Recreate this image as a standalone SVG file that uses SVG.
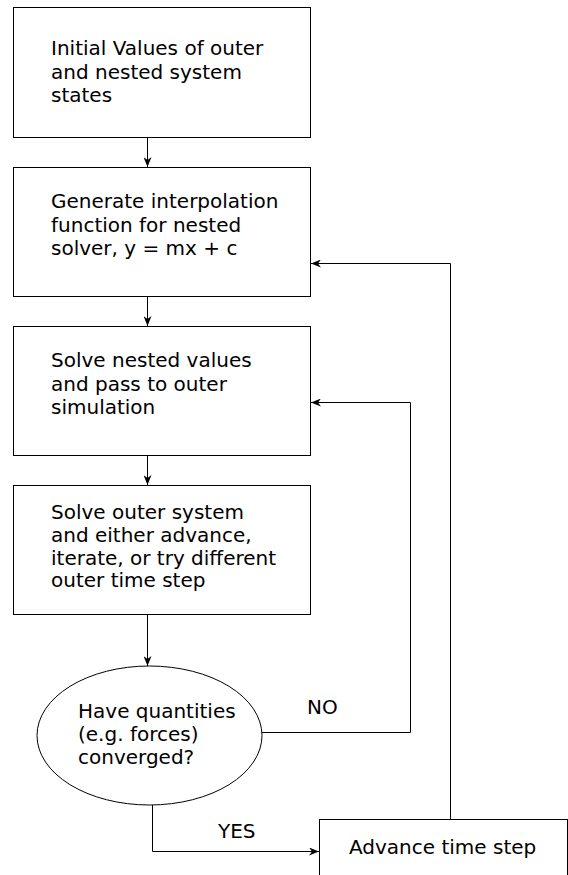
<svg xmlns="http://www.w3.org/2000/svg" width="568" height="875" viewBox="0 0 568 875">
<style>
.box{fill:#fff;stroke:#000;stroke-width:1}
.t{font-family:"DejaVu Sans",Verdana,sans-serif;font-size:20px;fill:#000}
.c{fill:none;stroke:#000;stroke-width:1}
</style>
<defs>
<marker id="ah" viewBox="0 0 10 8" refX="10" refY="4" markerWidth="10" markerHeight="8" markerUnits="userSpaceOnUse" orient="auto">
<path d="M0,0 L10,4 L0,8 L3,4 z" fill="#000"/>
</marker>
</defs>
<rect width="568" height="875" fill="#fff"/>
<g id="n1">
<rect class="box" x="13.5" y="7.5" width="297" height="130"/>
<text class="t" x="51" y="55">Initial Values of outer</text>
<text class="t" x="51" y="78.5">and nested system</text>
<text class="t" x="51" y="102">states</text>
</g>
<g id="n2">
<rect class="box" x="13.5" y="167.5" width="297" height="129"/>
<text class="t" x="51" y="208">Generate interpolation</text>
<text class="t" x="51" y="231.5">function for nested</text>
<text class="t" x="51" y="254.5">solver, y = mx + c</text>
</g>
<g id="n3">
<rect class="box" x="13.5" y="326.5" width="297" height="129"/>
<text class="t" x="51" y="367">Solve nested values</text>
<text class="t" x="51" y="390.5">and pass to outer</text>
<text class="t" x="51" y="413.5">simulation</text>
</g>
<g id="n4">
<rect class="box" x="13.5" y="485.5" width="297" height="129"/>
<text class="t" x="51" y="519">Solve outer system</text>
<text class="t" x="51" y="542">and either advance,</text>
<text class="t" x="51" y="564.5">iterate, or try different</text>
<text class="t" x="51" y="587">outer time step</text>
</g>
<g id="n5">
<ellipse class="box" cx="149.5" cy="735.5" rx="112.5" ry="69.5"/>
<text class="t" x="78" y="718">Have quantities</text>
<text class="t" x="78" y="741">(e.g. forces)</text>
<text class="t" x="78" y="763.5">converged?</text>
</g>
<g id="n6">
<rect class="box" x="319.5" y="819.5" width="248" height="80"/>
<text class="t" x="349" y="854">Advance time step</text>
</g>
<g id="connectors">
<line class="c" x1="147.5" y1="137" x2="147.5" y2="167" marker-end="url(#ah)"/>
<line class="c" x1="147.5" y1="297" x2="147.5" y2="326" marker-end="url(#ah)"/>
<line class="c" x1="147.5" y1="456" x2="147.5" y2="485" marker-end="url(#ah)"/>
<line class="c" x1="147.5" y1="615" x2="147.5" y2="666" marker-end="url(#ah)"/>
<polyline class="c" points="262,732.5 410.5,732.5 410.5,402.5 311,402.5" marker-end="url(#ah)"/>
<polyline class="c" points="450.5,819 450.5,263.5 311,263.5" marker-end="url(#ah)"/>
<polyline class="c" points="152.5,805 152.5,851.5 319,851.5" marker-end="url(#ah)"/>
<text class="t" x="307" y="714">NO</text>
<text class="t" x="218" y="838">YES</text>
</g>
</svg>
